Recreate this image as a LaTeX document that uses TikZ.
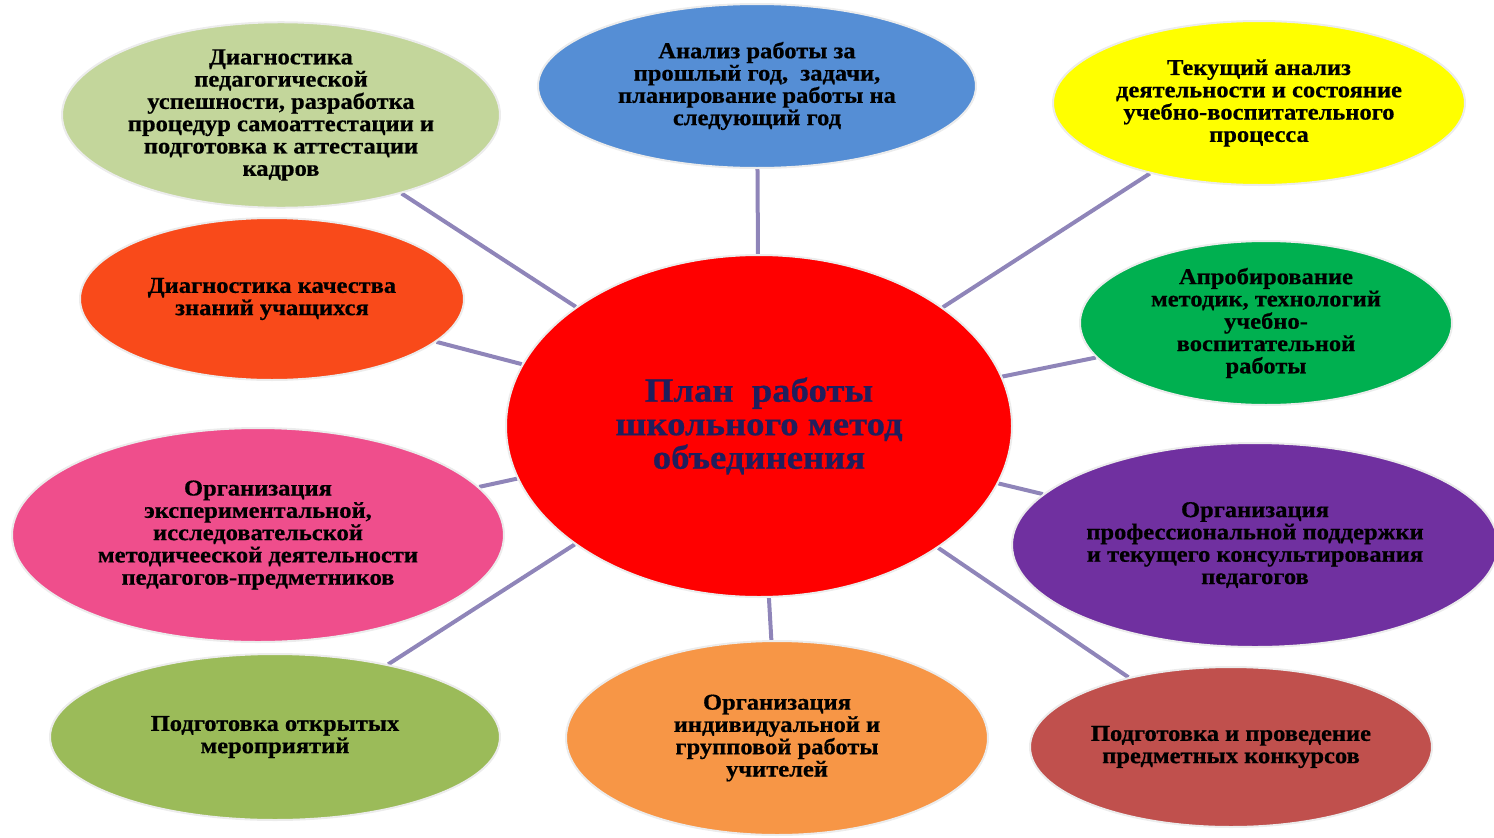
\documentclass[tikz,border=0pt]{standalone}
\usepackage{fontspec}
\setmainfont{Liberation Serif}[FakeStretch=1.08, BoldFeatures={FakeBold=0.6}]
\usetikzlibrary{shapes.geometric, backgrounds}
\tikzstyle{canvas} = [x = 1pt, y = -1pt]
\definecolor{linkColor}{RGB}{143,133,185}
\definecolor{titleColor}{RGB}{32,30,92}
\definecolor{sageGreen}{RGB}{195,214,155}
\definecolor{flameOrange}{RGB}{249,74,26}
\definecolor{skyBlue}{RGB}{85,142,213}
\definecolor{brightYellow}{RGB}{255,255,0}
\definecolor{leafGreen}{RGB}{0,176,80}
\definecolor{rosePink}{RGB}{239,78,140}
\definecolor{royalPurple}{RGB}{112,48,160}
\definecolor{oliveGreen}{RGB}{155,187,89}
\definecolor{softOrange}{RGB}{247,150,70}
\definecolor{brickRed}{RGB}{192,80,77}
\tikzstyle{topicStyle} = [ellipse, draw=gray!15, line width=2pt, inner sep=0pt, align=center, text=black, font=\fontsize{22.7}{22.3}\selectfont\bfseries]
\tikzstyle{planStyle} = [topicStyle, fill=red, text=titleColor, font=\fontsize{34}{33.5}\selectfont\bfseries]
\tikzstyle{linkLine} = [color=linkColor, line width=4pt]
\newcommand{\topicNode}[6]{\node [topicStyle, fill=#2, minimum width=2*#4pt, minimum height=2*#5pt] (#1) at (#3) {#6};}

\begin{document}
\begin{tikzpicture}[canvas]
  \useasboundingbox (0,0) rectangle (1494,838);
  \node [planStyle, minimum width=506pt, minimum height=342pt] (plan) at (759,426) {План\ \ работы\\школьного метод\\объединения};

  \topicNode{diagnostics}{sageGreen}{281,115}{219}{80}{Диагностика\\педагогической\\успешности, разработка\\процедур самоаттестации и\\подготовка к аттестации\\кадров}
  \topicNode{quality}{flameOrange}{272,299}{192}{81}{Диагностика качества\\знаний учащихся}
  \topicNode{analysis}{skyBlue}{757,86}{219}{82}{Анализ работы за\\прошлый год,\ \ задачи,\\планирование работы на\\следующий год}
  \topicNode{current}{brightYellow}{1259,103}{206}{82}{Текущий анализ\\деятельности и состояние\\учебно-воспитательного\\процесса}
  \topicNode{approbation}{leafGreen}{1266,323}{186}{82}{Апробирование\\методик, технологий\\учебно-\\воспитательной\\работы}
  \topicNode{experiment}{rosePink}{258,535}{246}{107}{Организация\\экспериментальной,\\исследовательской\\методичееской деятельности\\педагогов-предметников}
  \topicNode{support}{royalPurple}{1255,545}{243}{102}{Организация\\профессиональной поддержки\\и текущего консультирования\\педагогов}
  \topicNode{openEvents}{oliveGreen}{275,737}{225}{83}{Подготовка открытых\\мероприятий}
  \topicNode{groupWork}{softOrange}{777,738}{211}{97}{Организация\\индивидуальной и\\групповой работы\\учителей}
  \topicNode{contests}{brickRed}{1231,747}{201}{80}{Подготовка и проведение\\предметных конкурсов}

  % connectors behind the ellipses
  \begin{scope}[on background layer]
    \foreach \topic in {diagnostics, quality, analysis, current, approbation, experiment, support, openEvents, groupWork, contests} {
      \draw [linkLine] (plan) -- (\topic);
    }
  \end{scope}
\end{tikzpicture}
\end{document}
